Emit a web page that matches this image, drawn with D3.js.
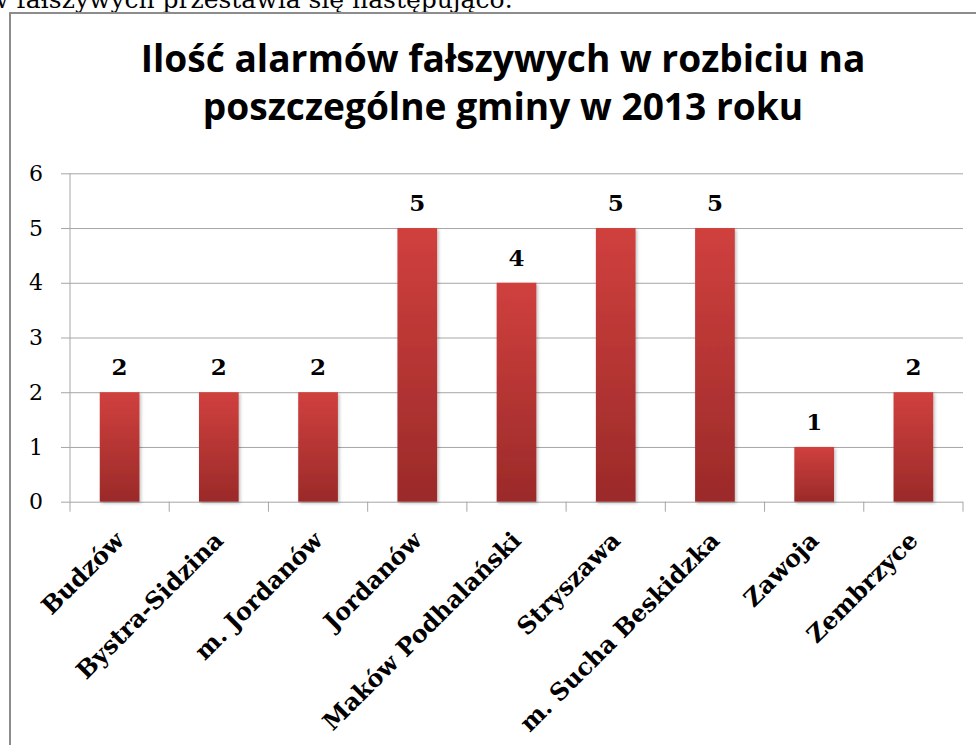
<!DOCTYPE html>
<html>
<head>
<meta charset="utf-8">
<script src="https://cdn.jsdelivr.net/npm/d3@7"></script>
<style>
  body { margin: 0; background: #fff; }
  svg { display: block; }
</style>
</head>
<body>
<div id="chart"></div>
<script>
// dane wykresu
var gminy = ['Budzów', 'Bystra-Sidzina', 'm. Jordanów', 'Jordanów', 'Maków Podhalański',
             'Stryszawa', 'm. Sucha Beskidzka', 'Zawoja', 'Zembrzyce'];
var alarmy = [2, 2, 2, 5, 4, 5, 5, 1, 2];
var yTicks = [0, 1, 2, 3, 4, 5, 6];
var tytul = ['Ilość alarmów fałszywych w rozbiciu na', 'poszczególne gminy w 2013 roku'];
var tekstNad = 'w fałszywych przestawia się następująco:';

var width = 976,
    height = 745,
    plotLeft = 70, plotRight = 963,
    plotTop = 173.3, plotBottom = 501.7,
    serif = "'DejaVu Serif', 'Liberation Serif', serif",
    sans = "'Open Sans', Lato, sans-serif";

var svg = d3.select('#chart').append('svg')
    .attr('width', width)
    .attr('height', height);

var defs = svg.append('defs');
var grad = defs.append('linearGradient')
    .attr('id', 'barGrad')
    .attr('x1', 0).attr('y1', 0).attr('x2', 0).attr('y2', 1);
grad.append('stop').attr('offset', '0%').attr('stop-color', '#d0403e');
grad.append('stop').attr('offset', '100%').attr('stop-color', '#9b2a29');

var shadow = defs.append('filter').attr('id', 'shadow')
    .attr('x', '-20%').attr('y', '-10%').attr('width', '150%').attr('height', '130%');
shadow.append('feDropShadow')
    .attr('dx', 1.5).attr('dy', 1.5).attr('stdDeviation', 1.5)
    .attr('flood-color', '#000').attr('flood-opacity', 0.25);

// tekst dokumentu ucięty u góry
svg.append('text')
    .attr('x', 513).attr('y', 8)
    .attr('text-anchor', 'end')
    .style('font-family', serif)
    .style('font-size', '25px')
    .text(tekstNad);

// ramka wykresu
svg.append('rect')
    .attr('x', 10).attr('y', 13)
    .attr('width', 1000).attr('height', 800)
    .attr('fill', 'none')
    .attr('stroke', '#8c8c8c')
    .attr('stroke-width', 2);

// tytuł - rozmiar dobrany do szerokości pierwszej linii
var title = svg.append('g').selectAll('text')
    .data(tytul)
    .enter().append('text')
    .attr('x', 503)
    .attr('y', function (d, i) { return 72 + i * 48 })
    .attr('text-anchor', 'middle')
    .style('font-family', sans)
    .style('font-weight', 'bold')
    .style('font-size', '36px')
    .text(function (d) { return d });
var w0 = title.node().getComputedTextLength();
title.style('font-size', (36 * 725 / w0) + 'px');

var x = d3.scaleBand()
    .domain(gminy)
    .range([plotLeft, plotRight])
    .paddingInner(0.6)
    .paddingOuter(0.3);

var y = d3.scaleLinear()
    .domain([0, 6])
    .range([plotBottom, plotTop]);

// siatka i oś Y
var yAxis = svg.append('g')
    .attr('transform', 'translate(61,0)')
    .call(d3.axisLeft(y)
        .tickValues(yTicks)
        .tickFormat(d3.format('d'))
        .tickSize(-(plotRight - 61))
        .tickPadding(18));
yAxis.select('.domain').remove();
yAxis.selectAll('line').attr('stroke', '#a6a6a6');
yAxis.selectAll('text')
    .style('font-family', serif)
    .style('font-size', '22px')
    .attr('fill', '#000');

svg.append('line')
    .attr('x1', plotLeft).attr('x2', plotLeft)
    .attr('y1', plotTop).attr('y2', plotBottom + 10)
    .attr('stroke', '#a6a6a6');

// podziałka osi X na granicach kategorii
var gap = (x.step() - x.bandwidth()) / 2;
svg.append('g').selectAll('line')
    .data(gminy)
    .enter().append('line')
    .attr('x1', function (d) { return x(d) + x.bandwidth() + gap })
    .attr('x2', function (d) { return x(d) + x.bandwidth() + gap })
    .attr('y1', plotBottom).attr('y2', plotBottom + 10)
    .attr('stroke', '#a6a6a6');

// słupki
svg.append('g').selectAll('rect')
    .data(alarmy)
    .enter().append('rect')
    .attr('x', function (d, i) { return x(gminy[i]) })
    .attr('y', function (d) { return y(d) })
    .attr('width', x.bandwidth())
    .attr('height', function (d) { return y(0) - y(d) })
    .attr('fill', 'url(#barGrad)')
    .attr('filter', 'url(#shadow)');

// etykiety wartości
svg.append('g').selectAll('text')
    .data(alarmy)
    .enter().append('text')
    .attr('x', function (d, i) { return x(gminy[i]) + x.bandwidth() / 2 })
    .attr('y', function (d) { return y(d) - 17 })
    .attr('text-anchor', 'middle')
    .style('font-family', serif)
    .style('font-weight', 'bold')
    .style('font-size', '23px')
    .text(function (d) { return d });

// etykiety kategorii
svg.append('g').selectAll('text')
    .data(gminy)
    .enter().append('text')
    .attr('transform', function (d) {
        return 'translate(' + (x(d) + x.bandwidth() / 2 + 6) + ',' + 542 + ') rotate(-45)';
    })
    .attr('text-anchor', 'end')
    .style('font-family', serif)
    .style('font-weight', 'bold')
    .style('font-size', '24px')
    .text(function (d) { return d });
</script>
</body>
</html>
